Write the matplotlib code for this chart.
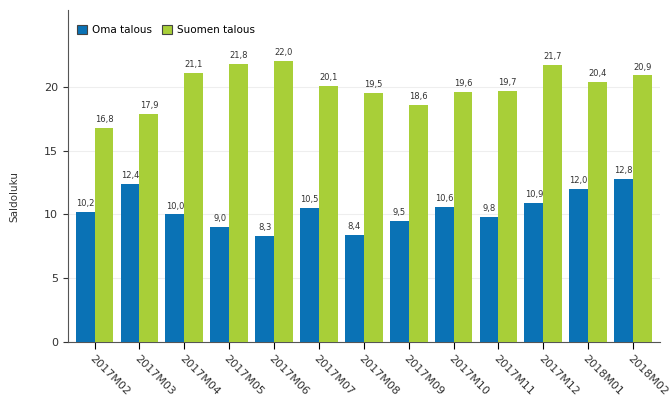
import matplotlib.pyplot as plt
import matplotlib.transforms as mtransforms
import numpy as np

# Months and balance figures
months = ["2017M02", "2017M03", "2017M04", "2017M05", "2017M06", "2017M07", "2017M08",
          "2017M09", "2017M10", "2017M11", "2017M12", "2018M01", "2018M02"]
oma_talous = [10.2, 12.4, 10.0, 9.0, 8.3, 10.5, 8.4, 9.5, 10.6, 9.8, 10.9, 12.0, 12.8]
suomen_talous = [16.8, 17.9, 21.1, 21.8, 22.0, 20.1, 19.5, 18.6, 19.6, 19.7, 21.7, 20.4, 20.9]

blue = "#0a72b5"
green = "#a8cf38"

fig = plt.figure(figsize=(6.7, 4.12), dpi=100)
ax = fig.add_axes([0.101, 0.17, 0.884, 0.805])

x = np.arange(len(months))
w = 0.42
b1 = ax.bar(x - w / 2, oma_talous, w, color=blue, label="Oma talous", zorder=3)
b2 = ax.bar(x + w / 2, suomen_talous, w, color=green, label="Suomen talous", zorder=3)

for bars, vals in ((b1, oma_talous), (b2, suomen_talous)):
    for r, v in zip(bars, vals):
        ax.text(r.get_x() + r.get_width() / 2, v + 0.3, f"{v:.1f}".replace(".", ","),
                ha="center", va="bottom", fontsize=6, color="#333333")

ax.set_xlim(-0.6, len(months) - 0.4)
ax.set_ylim(0, 26)
ax.set_yticks([0, 5, 10, 15, 20])
ax.yaxis.grid(True, color="#eeeeee", lw=0.8, zorder=0)
ax.set_xticks(x)
ax.set_xticklabels(months, rotation=-45, ha="left", va="top", rotation_mode="anchor",
                   fontsize=8, color="#333333")
# nudge the rotated labels a bit left/down like the original
offset = mtransforms.ScaledTranslation(-5 / 100, -6 / 100, fig.dpi_scale_trans)
for lab in ax.get_xticklabels():
    lab.set_transform(lab.get_transform() + offset)
ax.tick_params(axis="y", labelsize=8, colors="#333333")
ax.tick_params(axis="x", length=5)
ax.set_ylabel("Saldoluku", fontsize=7.5, color="#333333")
ax.yaxis.set_label_coords(-0.082, 0.44)

for s in ["top", "right"]:
    ax.spines[s].set_visible(False)
for s in ["left", "bottom"]:
    ax.spines[s].set_color("#555555")

leg = ax.legend(loc="upper left", ncol=2, frameon=False, fontsize=7.5,
                handlelength=1.0, handleheight=1.0, columnspacing=1.0,
                handletextpad=0.4, bbox_to_anchor=(0.0, 0.985))
for h in leg.legend_handles:
    h.set_edgecolor("#444444")
    h.set_linewidth(0.8)

fig.savefig("out.png", dpi=100)
